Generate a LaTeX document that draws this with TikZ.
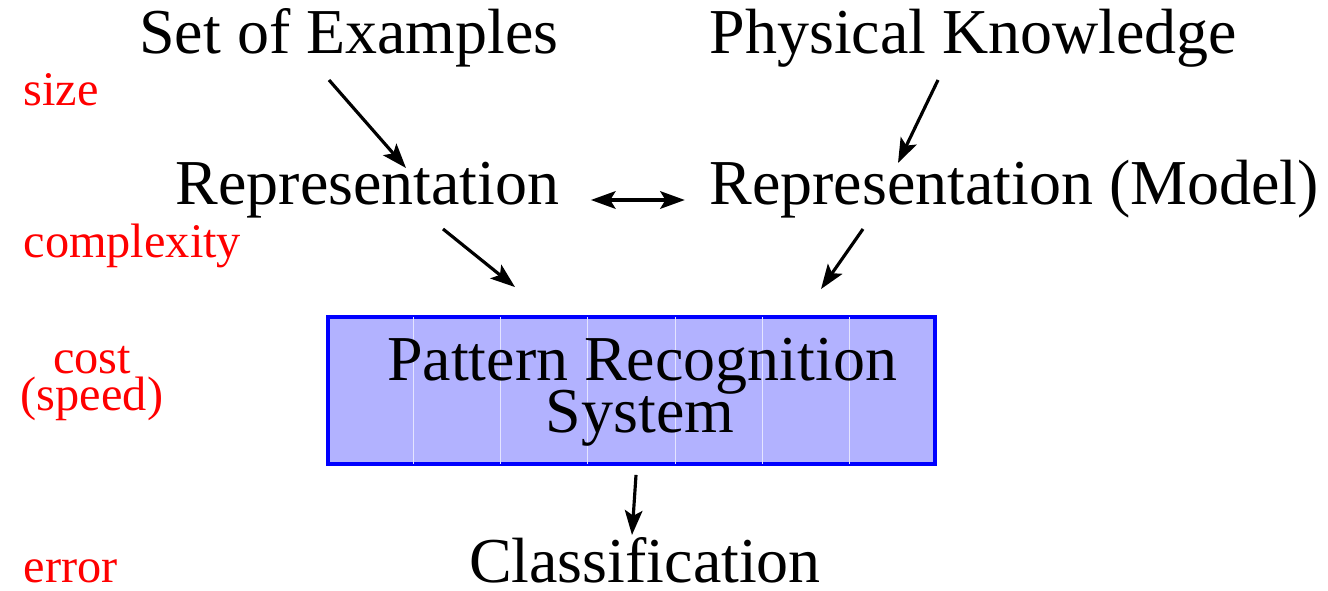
\documentclass[tikz,border=0pt]{standalone}
\usepackage{fontspec}
\setmainfont{Liberation Serif}
\usetikzlibrary{arrows.meta, calc}

\definecolor{boxfill}{RGB}{178,178,255}
\definecolor{stripline}{RGB}{228,228,255}

\begin{document}
\begin{tikzpicture}[line width=1.8pt, >={Stealth[length=14pt,width=10pt,inset=3pt]},
  main/.style = {inner sep=0pt, anchor=base, font=\fontsize{36.4}{40}\selectfont},
  note/.style = {inner sep=0pt, text=red, font=\fontsize{27.5}{30}\selectfont},
  block/.style = {draw=blue, line width=2.2pt, fill=boxfill, inner sep=0pt,
    minimum width=12.14cm, minimum height=2.94cm},
  strip/.style = {draw=stripline, line width=0.6pt, shorten <=1.2pt, shorten >=1.2pt}]
\useasboundingbox (0,0) rectangle (26.56,11.8);

\node[main] (ex) at (6.98,10.72) {Set of Examples};
\node[main] (pk) at (19.47,10.72) {Physical Knowledge};
\node[main] (rep) at (7.35,7.70) {Representation};
\node[main] (mod) at (20.28,7.70) {Representation (Model)};
\node[block] (prs) at (12.63,3.99) {};
\foreach \k in {1,...,6}
  \draw[strip] ($(prs.north west)!\k/7!(prs.north east)$) -- ($(prs.south west)!\k/7!(prs.south east)$);
\node[main] (pat) at (12.84,4.20) {Pattern Recognition};
\node[main] (sys) at (12.80,3.16) {System};
\node[main] (cls) at (12.90,0.16) {Classification};

\node[note, anchor=base west] (size) at (0.44,9.68) {size};
\node[note, anchor=base west] (cplx) at (0.44,6.64) {complexity};
\node[note, anchor=base] (cost) at (1.84,4.34) {cost};
\node[note, anchor=base] (speed) at (1.84,3.60) {(speed)};
\node[note, anchor=base west] (err) at (0.44,0.16) {error};

\draw[->] ([shift={(-0.40,-0.52)}]ex.base) -- ([shift={(0.77,0.74)}]rep.base);
\draw[->] ([shift={(-0.71,-0.52)}]pk.base) -- ([shift={(-2.32,0.84)}]mod.base);
\draw[<->] ([shift={(0.60,0.10)}]rep.base east) -- ([shift={(-0.46,0.10)}]mod.base west);
\draw[->] ([shift={(1.51,-0.48)}]rep.base) -- ([shift={(-2.33,0.56)}]prs.north);
\draw[->] ([shift={(-3.02,-0.48)}]mod.base) -- ([shift={(3.79,0.52)}]prs.north);
\draw[->] ([shift={(0.09,-0.18)}]prs.south) -- ([shift={(-0.26,0.94)}]cls.base);
\end{tikzpicture}
\end{document}
